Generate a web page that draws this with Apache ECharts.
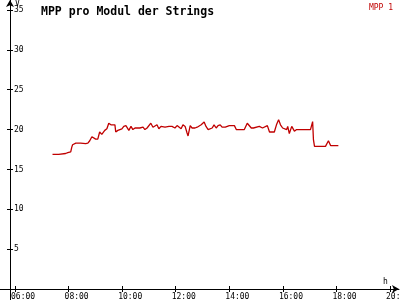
<!DOCTYPE html>
<html>
<head>
<meta charset="utf-8">
<script src="https://cdn.jsdelivr.net/npm/echarts@6/dist/echarts.min.js"></script>
<style>
html,body{margin:0;padding:0;background:#fff;}
#chart{width:400px;height:300px;}
</style>
</head>
<body>
<div id="chart"></div>
<script>
// time of day in hours
const times = [7.40,7.63,7.64,7.89,7.93,7.97,8.04,8.08,8.12,8.15,8.27,8.45,8.49,8.64,8.72,8.79,8.87,8.94,9.01,9.09,
  9.16,9.24,9.28,9.35,9.43,9.50,9.58,9.65,9.73,9.76,9.84,9.91,9.99,10.06,10.14,10.18,10.25,10.33,10.40,10.48,
  10.55,10.66,10.70,10.78,10.85,10.93,11.00,11.07,11.15,11.22,11.30,11.37,11.45,11.52,11.60,11.67,11.75,11.86,11.90,11.97,
  12.05,12.12,12.20,12.27,12.35,12.42,12.46,12.54,12.61,12.72,12.80,12.87,12.95,13.06,13.13,13.21,13.28,13.36,13.43,13.51,
  13.58,13.66,13.73,13.85,13.88,14.00,14.19,14.26,14.41,14.48,14.56,14.67,14.74,14.82,14.90,14.97,15.12,15.16,15.24,15.31,
  15.42,15.50,15.68,15.76,15.84,15.91,15.99,16.06,16.14,16.18,16.24,16.33,16.36,16.43,16.51,17.03,17.07,17.11,17.14,17.18,
  17.59,17.63,17.70,17.78,18.07];
// MPP 1 voltage values
const mpp1 = [16.9,16.9,17.0,17.0,17.2,17.1,17.1,17.2,17.8,18.1,18.3,18.3,18.25,18.25,18.3,18.6,19.1,19.1,18.8,18.8,
  19.7,19.4,19.2,19.9,20.1,20.8,20.6,20.5,20.6,19.7,19.9,20.1,20.1,20.4,20.5,20.5,19.9,20.4,20.0,20.2,
  20.2,20.2,20.1,20.3,20.0,20.2,20.4,20.8,20.3,20.1,20.6,20.1,20.4,20.5,20.3,20.2,20.4,20.4,20.3,20.2,
  20.5,20.4,20.1,20.6,20.4,19.6,19.2,20.5,20.2,20.2,20.3,20.1,20.6,20.95,20.4,20.0,20.0,20.2,20.6,20.2,
  20.5,20.6,20.3,20.3,20.2,20.5,20.5,20.0,20.0,19.8,20.0,20.8,20.6,20.2,20.2,20.4,20.4,20.6,20.2,20.4,
  20.5,19.7,19.7,20.6,21.25,20.6,20.2,20.2,20.0,20.4,19.5,20.4,20.4,19.8,20.0,20.0,20.5,21.0,18.75,17.9,
  17.9,18.1,18.6,18.0,18.0];
const xTickHours = [6,8,10,12,14,16,18,20];
const xTickLabels = ['06:00','08:00','10:00','12:00','14:00','16:00','18:00','20:00'];
const yTickValues = [5,10,15,20,25,30,35];
const yTickLabels = ['5','10','15','20','25','30','35'];

const FONT = 'DejaVu Sans Mono';
const chart = echarts.init(document.getElementById('chart'), null, {renderer:'canvas'});
const xMin = 5.44, xMax = 20.334, yMin = -1.38, yMax = 36.26;
const labelShift = 0.3; // labels sit slightly right of their ticks

function xAxisCfg(kind){
  const isLine = kind === 'line', isLabel = kind === 'label';
  const shift = isLabel ? labelShift : 0;
  return {
    type:'value', min:xMin - shift, max:xMax - shift, position:'bottom', offset: isLine ? 0 : -11,
    axisLine:{show:isLine, onZero:isLine, onZeroAxisIndex:0,
      symbol:['none','arrow'], symbolSize:[6,7], lineStyle:{color:'#000',width:1}},
    axisTick:{show:!isLabel, inside:!isLine, length:3, customValues:xTickHours, lineStyle:{color:'#000',width:1}},
    axisLabel:{show:isLabel, customValues:xTickHours, margin:4, hideOverlap:false,
      formatter:(v)=>xTickLabels[xTickHours.indexOf(Math.round(v))] || '',
      fontFamily:FONT, fontSize:8, color:'#000', verticalAlign:'top'},
    splitLine:{show:false}
  };
}
function yAxisCfg(primary, inside){
  return {
    type:'value', min:yMin, max:yMax, position:'left', offset:-10,
    axisLine:{show:primary, onZero:false, symbol:['none','arrow'], symbolSize:[6,7], lineStyle:{color:'#000',width:1}},
    axisTick:{show:true, inside:inside, length:3, customValues:yTickValues, lineStyle:{color:'#000',width:1}},
    axisLabel:{show:primary, inside:true, margin:4, customValues:yTickValues,
      formatter:(v)=>yTickLabels[yTickValues.indexOf(Math.round(v))] || '',
      fontFamily:FONT, fontSize:8, color:'#000'},
    splitLine:{show:false}
  };
}

chart.setOption({
  animation:false,
  backgroundColor:'#fff',
  title:{text:'MPP pro Modul der Strings', left:36, top:1,
    textStyle:{fontFamily:FONT, fontSize:11.5, fontWeight:'bold', color:'#000'}},
  legend:{right:2, top:-1, icon:'rect', itemWidth:0, itemHeight:0,
    textStyle:{fontFamily:FONT, fontSize:8, color:'#c00000'}, data:['MPP 1']},
  grid:{left:0, right:1, top:0, bottom:0, containLabel:false, outerBoundsMode:'none'},
  xAxis:[xAxisCfg('line'), xAxisCfg('tick'), xAxisCfg('label')],
  yAxis:[yAxisCfg(true,true), yAxisCfg(false,false)],
  graphic:[
    {type:'text', left:15, top:0, style:{text:'V', font:'8px "DejaVu Sans Mono"', fill:'#000'}},
    {type:'text', left:383, top:278, style:{text:'h', font:'8px "DejaVu Sans Mono"', fill:'#000'}}
  ],
  series:[{
    name:'MPP 1', type:'line', xAxisIndex:0, yAxisIndex:0,
    showSymbol:false, symbol:'none',
    lineStyle:{color:'#c00000', width:1.3},
    itemStyle:{color:'#c00000'},
    data: times.map((t,i)=>[t, mpp1[i]])
  }]
});
</script>
</body>
</html>
